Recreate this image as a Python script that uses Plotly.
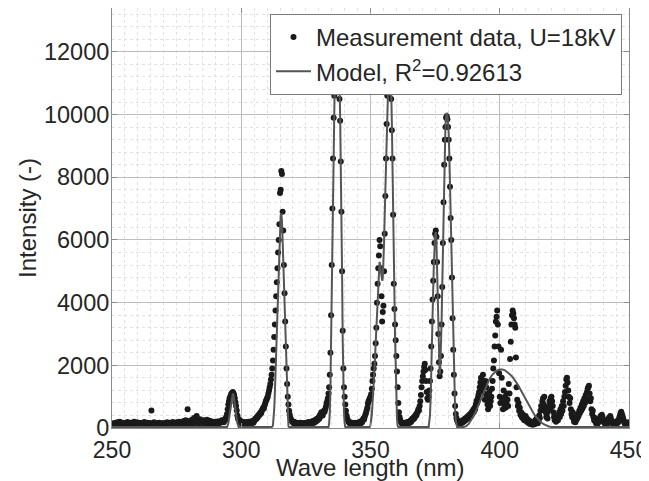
"""Emission spectrum: measured intensity vs. fitted model."""
import numpy as np
import plotly.graph_objects as go

# measurement grid, 0.25 nm steps
meas_wl = np.round(np.arange(250.0, 450.001, 0.25), 2)

meas_int = [
    120, 90, 150, 110, 70, 160, 130, 100, 180, 140, 90, 120, 200, 150, 110, 80, 140, 170, 120, 100,  # 250
    130, 160, 90, 110, 190, 140, 120, 80, 150, 170, 110, 130, 90, 160, 200, 120, 100, 140, 180, 110,  # 255
    90, 130, 170, 150, 100, 120, 160, 80, 140, 110, 190, 130, 100, 150, 120, 170, 90, 140, 110, 160,  # 260
    130, 560, 120, 100, 150, 180, 110, 90, 140, 120, 160, 100, 130, 170, 110, 80, 150, 130, 100, 140,  # 265
    120, 160, 90, 140, 110, 180, 130, 100, 150, 170, 120, 90, 140, 110, 190, 130, 160, 100, 120, 150,  # 270
    180, 130, 110, 160, 200, 140, 120, 170, 150, 190, 130, 220, 160, 140, 250, 180, 130, 600, 200, 160,  # 275
    170, 230, 150, 190, 260, 140, 180, 320, 200, 160, 210, 380, 170, 240, 190, 150, 280, 210, 170, 230,  # 280
    200, 160, 250, 190, 150, 220, 180, 260, 140, 200, 170, 230, 150, 190, 210, 160, 180, 140, 200, 170,  # 285
    150, 190, 160, 210, 140, 180, 200, 160, 220, 190, 250, 200, 230, 180, 260, 240, 320, 360, 450, 600,  # 290
    750, 850, 950, 1000, 1050, 1100, 1120, 1150, 1100, 1050, 950, 820, 700, 560, 400, 300, 260, 220, 250, 180,  # 295
    150, 200, 130, 170, 120, 160, 190, 140, 110, 170, 150, 200, 130, 180, 160, 210, 150, 190, 230, 170,  # 300
    220, 260, 300, 280, 350, 330, 400, 380, 450, 430, 500, 480, 560, 600, 650, 620, 720, 780, 850, 900,  # 305
    950, 1000, 1100, 1200, 1300, 1400, 1550, 1700, 1900, 2150, 2500, 2900, 3300, 3750, 4200, 4650, 5100, 5600, 6000, 6500,  # 310
    7500, 7600, 8200, 8100, 6900, 6300, 5200, 4300, 3400, 2600, 1900, 1400, 1000, 750, 550, 420, 330, 270, 230, 200,  # 315
    180, 150, 200, 130, 170, 110, 160, 140, 100, 150, 120, 170, 90, 140, 110, 160, 130, 100, 150, 120,  # 320
    140, 170, 110, 150, 190, 130, 160, 120, 180, 210, 150, 190, 230, 170, 250, 200, 280, 230, 300, 260,  # 325
    350, 300, 420, 380, 500, 450, 400, 480, 550, 520, 600, 680, 780, 850, 950, 1100, 1300, 1700, 2400, 3600,  # 330
    5200, 7000, 8600, 9900, 10600, 10900, 11600, 12200, 12500, 12100, 11500, 10900, 10500, 9800, 8500, 6900, 5000, 3100, 1900, 1300,  # 335
    1000, 750, 550, 400, 300, 240, 200, 170, 150, 180, 130, 160, 120, 150, 110, 140, 170, 120, 150, 130,  # 340
    160, 120, 180, 140, 200, 150, 220, 180, 250, 300, 270, 350, 420, 480, 560, 650, 780, 850, 900, 950,  # 345
    1000, 1080, 1250, 1500, 1700, 1900, 2050, 2300, 2700, 3200, 4000, 4600, 5100, 5500, 6000, 5800, 5100, 4200, 3400, 3700,  # 350
    3900, 5000, 6200, 7400, 8600, 9700, 10600, 11200, 11800, 12100, 11900, 11000, 10500, 9500, 8600, 6800, 4600, 3800, 3300, 2800,  # 355
    2300, 1800, 1300, 800, 500, 350, 260, 200, 170, 130, 160, 110, 140, 120, 170, 130, 150, 190, 140, 180,  # 360
    210, 170, 240, 200, 260, 300, 270, 340, 310, 380, 420, 400, 480, 520, 600, 560, 700, 850, 1050, 1300,  # 365
    1500, 1650, 1800, 1950, 2050, 1850, 1500, 1150, 950, 900, 1000, 1200, 1500, 1900, 2600, 3400, 4100, 4700, 5300, 5900,  # 370
    6200, 6300, 6100, 5300, 4200, 3000, 2100, 1650, 1800, 2300, 3300, 4500, 5900, 7200, 8400, 9200, 9600, 9900, 9950, 9850,  # 375
    9600, 9200, 8600, 7700, 6700, 6000, 4800, 3500, 2500, 1700, 1100, 700, 450, 320, 250, 200, 160, 200, 140, 180,  # 380
    150, 220, 170, 250, 200, 280, 230, 310, 260, 340, 300, 380, 330, 420, 370, 460, 400, 520, 460, 580,  # 385
    520, 650, 600, 750, 860, 800, 950, 1050, 1150, 1300, 1450, 1600, 1550, 1250, 1700, 1400, 1100, 900, 1500, 1300,  # 390
    1000, 750, 600, 900, 1150, 700, 850, 1000, 1250, 1500, 1900, 2150, 2600, 2950, 3400, 3550, 3750, 3300, 2600, 1750,  # 395
    1000, 800, 2500, 1600, 900, 600, 1200, 750, 1000, 650, 800, 1100, 900, 700, 1400, 1100, 2200, 2750, 3300, 3600,  # 400
    3750, 3650, 3500, 3300, 3200, 2250, 1300, 900, 700, 800, 550, 650, 420, 500, 350, 450, 300, 400, 250, 330,  # 405
    380, 220, 300, 180, 260, 150, 220, 130, 200, 120, 180, 100, 150, 200, 120, 250, 180, 300, 220, 150,  # 410
    250, 400, 320, 550, 700, 600, 850, 950, 750, 1000, 650, 500, 350, 450, 300, 550, 700, 850, 600, 950,  # 415
    1000, 850, 700, 500, 350, 250, 300, 200, 280, 350, 250, 400, 500, 350, 600, 450, 700, 550, 850, 700,  # 420
    1000, 1150, 1350, 1550, 1600, 1450, 1200, 1000, 800, 950, 600, 450, 350, 500, 300, 200, 280, 180, 250, 350,  # 425
    300, 450, 380, 550, 480, 650, 550, 750, 620, 850, 700, 950, 800, 1050, 900, 1150, 1250, 1300, 1350, 1100,  # 430
    850, 950, 600, 450, 550, 350, 250, 320, 200, 150, 220, 130, 180, 260, 200, 320, 380, 300, 420, 350,  # 435
    280, 200, 150, 230, 170, 120, 200, 150, 260, 330, 280, 380, 300, 220, 150, 200, 120, 170, 100, 150,  # 440
    200, 130, 180, 250, 190, 330, 400, 480, 520, 450, 380, 300, 220, 160, 120, 180, 130, 100, 150, 120,  # 445
    180,
]

# fitted model, read at its break points
model_wl = [
    250, 294.5, 295, 295.5, 296, 296.5, 296.75, 297, 297.5, 298, 298.5, 299,
    311.75, 312, 312.25, 312.5, 312.75, 313, 313.25, 313.5, 313.75, 314, 314.25, 314.5, 314.75,
    315, 315.25, 315.5, 315.75, 316, 316.25, 316.5, 316.75, 317, 317.25, 317.5, 317.75, 318, 318.25, 318.5,
    333.75, 334, 334.25, 334.5, 334.75, 335, 335.25, 335.5, 335.75, 336, 336.25, 336.5, 336.75,
    337, 337.25, 337.5, 337.75, 338, 338.25, 338.5, 338.75, 339, 339.25, 339.5, 339.75, 340, 340.25,
    349.75, 350, 350.5, 351, 351.5, 352, 352.5, 353, 353.25, 353.5, 353.75, 354, 354.25, 354.5, 354.75,
    355, 355.25, 355.5, 355.75, 356, 356.25, 356.5, 356.75, 357, 357.25, 357.5, 357.75, 358, 358.25,
    358.5, 358.75, 359, 359.25, 359.5, 359.75, 360, 360.25, 360.5, 360.75,
    372.5, 372.75, 373, 373.25, 373.5, 373.75, 374, 374.25, 374.5, 374.75, 375, 375.25, 375.5, 375.75,
    376, 376.25, 376.5, 376.75, 377, 377.25, 377.5, 377.75, 378, 378.25, 378.5, 378.75, 379, 379.25,
    379.5, 379.75, 380, 380.25, 380.5, 380.75, 381, 381.25, 381.5, 381.75, 382, 382.25, 382.5, 382.75,
    383, 383.25, 383.5,
    386, 387, 388, 389, 390, 391, 392, 393, 394, 395, 396, 397, 398, 399, 400, 401, 402, 403, 404,
    405, 406, 407, 408, 409, 410, 411, 412, 413, 414, 415, 416, 417, 418, 419, 420, 422, 450,
]
model_int = [
    30, 30, 150, 450, 800, 1050, 1100, 1050, 800, 450, 150, 30,
    30, 40, 80, 250, 600, 1100, 1800, 2600, 3300, 4000, 4700, 5400, 6000,
    6500, 6800, 6850, 6600, 6000, 5300, 4500, 3800, 3000, 2200, 1400, 700, 250, 60, 30,
    30, 150, 500, 1300, 2800, 5000, 7000, 8700, 10000, 11000, 11600, 12100, 12500,
    12700, 12500, 12100, 11600, 11000, 10000, 8700, 7000, 5000, 2800, 1300, 500, 150, 30,
    30, 100, 400, 1000, 1800, 2700, 3700, 4700, 5100, 5300, 5200, 5000, 4800, 4700, 4800,
    5200, 5900, 6800, 7700, 8500, 9500, 10500, 11300, 11900, 12200, 12100, 11600, 10800, 9800,
    8700, 7300, 5800, 4300, 2900, 1700, 800, 300, 80, 30,
    30, 150, 400, 900, 1600, 2500, 3500, 4400, 5200, 5800, 6150, 6250, 6000, 5100,
    3900, 2700, 1900, 1700, 1900, 2500, 3400, 4500, 5800, 7100, 8300, 9200, 9700, 9950,
    10050, 10000, 9800, 9400, 8700, 7800, 6800, 5800, 4700, 3500, 2500, 1600, 1000, 500,
    250, 100, 30,
    30, 60, 130, 250, 400, 580, 780, 980, 1180, 1390, 1560, 1690, 1780, 1840, 1870, 1870, 1840, 1780, 1710,
    1620, 1510, 1380, 1230, 1070, 910, 760, 620, 480, 360, 260, 180, 120, 80, 50, 35, 30, 30,
]

FONT = "Liberation Sans, Arial, Helvetica, sans-serif"
TEXT = "#262626"

# the page body keeps its 8px default margin, so the figure sits at (8, 8)
PAGE_OFFSET = 8
WIN_W, WIN_H = 649, 481
# target axes box in window pixels
BOX_LEFT, BOX_RIGHT, BOX_TOP, BOX_BOTTOM = 112, 629, 8, 428
# the figure runs a little past the window so edge labels are not clipped by the svg
FIG_W, FIG_H = WIN_W, WIN_H


def build_figure() -> go.Figure:
    fig = go.Figure()
    fig.add_trace(
        go.Scatter(
            x=meas_wl,
            y=meas_int,
            mode="markers",
            name="Measurement data, U=18kV",
            marker=dict(color="#1a1a1a", size=6, line=dict(width=0)),
        )
    )
    fig.add_trace(
        go.Scatter(
            x=model_wl,
            y=model_int,
            mode="lines",
            name="Model, R<sup>2</sup>=0.92613",
            line=dict(color="#555555", width=2),
        )
    )

    axis_common = dict(
        showline=True,
        linecolor="#8c8c8c",
        linewidth=1,
        mirror="ticks",
        ticks="inside",
        ticklen=5,
        tickcolor="#8c8c8c",
        showgrid=True,
        gridcolor="#bdbdbd",
        gridwidth=1,
        zeroline=False,
        automargin=False,
        tickformat="d",
        ticklabeloverflow="allow",
    )
    fig.update_xaxes(
        range=[250, 450],
        tick0=250,
        dtick=50,
        ticklabelstandoff=1,
        tickfont=dict(family=FONT, size=23, color=TEXT),
        minor=dict(dtick=5, showgrid=True, gridcolor="#e2e2e2", griddash="dot", gridwidth=1),
        **axis_common,
    )
    fig.update_yaxes(
        range=[0, 13400],
        tick0=0,
        dtick=2000,
        ticklabelstandoff=-3,
        tickfont=dict(family=FONT, size=23.5, color=TEXT),
        minor=dict(dtick=400, showgrid=True, gridcolor="#e2e2e2", griddash="dot", gridwidth=1),
        **axis_common,
    )

    box_w = BOX_RIGHT - BOX_LEFT
    box_h = BOX_BOTTOM - BOX_TOP
    fig.add_annotation(
        text="Wave length (nm)",
        xref="paper", yref="paper",
        x=0.5, y=-(467.5 - BOX_BOTTOM) / box_h,
        xanchor="center", yanchor="middle",
        showarrow=False,
        font=dict(family=FONT, size=24, color=TEXT),
    )
    fig.add_annotation(
        text="Intensity (-)",
        xref="paper", yref="paper",
        x=-(BOX_LEFT - 27) / box_w, y=0.5,
        xanchor="center", yanchor="middle",
        textangle=-90,
        showarrow=False,
        font=dict(family=FONT, size=24, color=TEXT),
    )

    fig.update_layout(
        width=FIG_W,
        height=FIG_H,
        margin=dict(
            l=BOX_LEFT - PAGE_OFFSET,
            r=FIG_W + PAGE_OFFSET - BOX_RIGHT,
            t=BOX_TOP - PAGE_OFFSET,
            b=FIG_H + PAGE_OFFSET - BOX_BOTTOM,
        ),
        paper_bgcolor="white",
        plot_bgcolor="white",
        font=dict(family=FONT, size=23, color=TEXT),
        showlegend=True,
        legend=dict(
            x=(270 - BOX_LEFT) / box_w,
            y=1 - (14 - BOX_TOP) / box_h,
            xanchor="left",
            yanchor="top",
            bgcolor="white",
            bordercolor="#7a7a7a",
            borderwidth=1,
            itemwidth=35,
            font=dict(family=FONT, size=24, color=TEXT),
            tracegroupgap=0,
        ),
    )
    return fig


if __name__ == "__main__":
    fig = build_figure()
    fig.write_html("out.html")
